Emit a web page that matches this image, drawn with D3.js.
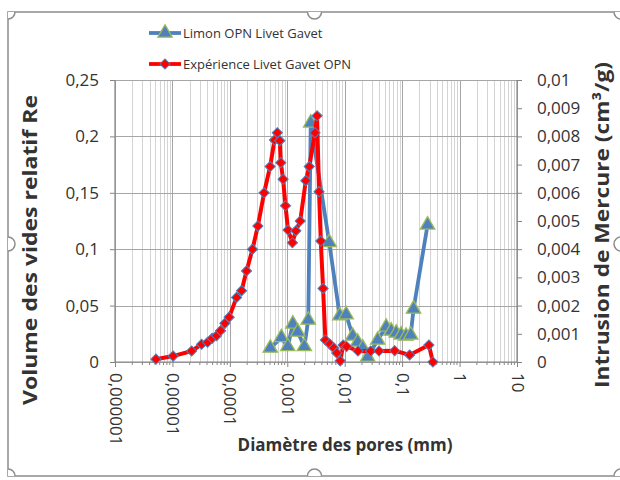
<!DOCTYPE html>
<html>
<head>
<meta charset="utf-8">
<script src="https://cdn.jsdelivr.net/npm/d3@7"></script>
<style>
  body { margin: 0; background: #fff; }
  text { font-family: "Open Sans", sans-serif; fill: #333; }
</style>
</head>
<body>
<script>
// pore diameters (mm) and values
var expDiam = [5.16e-6, 1.03e-5, 2.16e-5, 3.22e-5, 4.09e-5, 4.92e-5, 5.87e-5, 6.89e-5, 8.19e-5, 9.72e-5,
  1.31e-4, 1.60e-4, 1.95e-4, 2.48e-4, 3.07e-4, 3.95e-4, 5.02e-4, 5.99e-4, 6.70e-4, 7.41e-4,
  7.71e-4, 8.45e-4, 9.31e-4, 1.03e-3, 1.23e-3, 1.41e-3, 1.68e-3, 2.10e-3, 2.41e-3, 3.04e-3,
  3.30e-3, 3.57e-3, 3.83e-3, 4.20e-3, 4.61e-3, 5.48e-3, 6.44e-3, 7.26e-3, 8.35e-3, 9.42e-3,
  1.08e-2, 1.70e-2, 2.83e-2, 3.95e-2, 7.41e-2, 0.135, 0.292, 0.343];
var expIntrusion = [0.0001, 0.00021, 0.00039, 0.00063, 0.0007, 0.00084, 0.00093, 0.00111, 0.00137, 0.00159,
  0.00229, 0.00253, 0.00323, 0.0040, 0.00482, 0.0060, 0.00693, 0.00787, 0.00813, 0.00785,
  0.00707, 0.00648, 0.00554, 0.00468, 0.00423, 0.00465, 0.0050, 0.00643, 0.00693, 0.00813,
  0.00873, 0.00604, 0.00429, 0.00261, 0.00078, 0.00064, 0.0005, 0.00032, 0.00004, 0.0006,
  0.00055, 0.00039, 0.00039, 0.00039, 0.0004, 0.00025, 0.0006, 0];

var limonDiam = [5.06e-4, 7.87e-4, 1.02e-3, 1.25e-3, 1.52e-3, 1.98e-3, 2.32e-3, 2.56e-3, 5.37e-3, 8.18e-3,
  1.06e-2, 1.38e-2, 1.68e-2, 2.06e-2, 2.51e-2, 3.75e-2, 5.27e-2, 6.44e-2, 7.87e-2, 9.6e-2,
  0.117, 0.141, 0.158, 0.277];
var limonRe = [0.0124, 0.0217, 0.0137, 0.0337, 0.0266, 0.0137, 0.0372, 0.212, 0.106, 0.041,
  0.042, 0.023, 0.0177, 0.0124, 0.0044, 0.0195, 0.031, 0.0275, 0.0257, 0.024,
  0.023, 0.024, 0.047, 0.1215];

var seriesNames = ["Limon OPN Livet Gavet", "Expérience Livet Gavet OPN"];
var xTicks = [1e-6, 1e-5, 1e-4, 1e-3, 1e-2, 1e-1, 1, 10];
var xTickLabels = ["0,000001", "0,00001", "0,0001", "0,001", "0,01", "0,1", "1", "10"];
var leftTicks = [0, 0.05, 0.1, 0.15, 0.2, 0.25];
var leftTickLabels = ["0", "0,05", "0,1", "0,15", "0,2", "0,25"];
var rightTicks = [0, 0.001, 0.002, 0.003, 0.004, 0.005, 0.006, 0.007, 0.008, 0.009, 0.01];
var rightTickLabels = ["0", "0,001", "0,002", "0,003", "0,004", "0,005", "0,006", "0,007", "0,008", "0,009", "0,01"];

var W = 620, H = 480;
var plot = {left: 115, right: 517, top: 80, bottom: 362};

var svg = d3.select("body").append("svg")
  .attr("width", W)
  .attr("height", H);

// chart frame with the little selection handles
var fx0 = 8, fx1 = 621, fy0 = 12, fy1 = 476, r = 7;
svg.append("rect")
  .attr("x", fx0).attr("y", fy0)
  .attr("width", fx1 - fx0).attr("height", fy1 - fy0)
  .attr("fill", "#fff").attr("stroke", "#8c8c8c").attr("stroke-width", 1.5);
var handles = [
  [fx0, fy0], [fx1, fy0], [fx0, fy1], [fx1, fy1],
  [(fx0 + fx1) / 2, fy0], [(fx0 + fx1) / 2, fy1], [fx0, (fy0 + fy1) / 2], [fx1, (fy0 + fy1) / 2]
];
svg.append("clipPath").attr("id", "inside")
  .append("rect").attr("x", fx0).attr("y", fy0).attr("width", fx1 - fx0).attr("height", fy1 - fy0);
svg.append("g").attr("clip-path", "url(#inside)")
  .selectAll("circle").data(handles).enter().append("circle")
  .attr("cx", function (d) { return d[0]; })
  .attr("cy", function (d) { return d[1]; })
  .attr("r", r)
  .attr("fill", "#fff").attr("stroke", "#8c8c8c").attr("stroke-width", 1.5);

// scales
var x = d3.scaleLog().domain([1e-6, 10]).range([plot.left, plot.right]);
var yLeft = d3.scaleLinear().domain([0, 0.25]).range([plot.bottom, plot.top]);
var yRight = d3.scaleLinear().domain([0, 0.01]).range([plot.bottom, plot.top]);

// vertical grid (log minor + decades)
var minor = [];
for (var e = -6; e < 1; e++) {
  for (var k = 2; k <= 9; k++) minor.push(k * Math.pow(10, e));
}
var grid = svg.append("g");
grid.selectAll("line.minor").data(minor).enter().append("line")
  .attr("class", "minor")
  .attr("x1", function (d) { return Math.round(x(d)) + 0.5; })
  .attr("x2", function (d) { return Math.round(x(d)) + 0.5; })
  .attr("y1", plot.top).attr("y2", plot.bottom)
  .attr("stroke", "#d4d4d4").attr("stroke-width", 1);
grid.selectAll("line.major").data(xTicks).enter().append("line")
  .attr("class", "major")
  .attr("x1", function (d) { return Math.round(x(d)) + 0.5; })
  .attr("x2", function (d) { return Math.round(x(d)) + 0.5; })
  .attr("y1", plot.top).attr("y2", plot.bottom)
  .attr("stroke", "#a6a6a6").attr("stroke-width", 1);
grid.selectAll("line.h").data(leftTicks).enter().append("line")
  .attr("class", "h")
  .attr("x1", plot.left).attr("x2", plot.right)
  .attr("y1", function (d) { return Math.round(yLeft(d)) + 0.5; })
  .attr("y2", function (d) { return Math.round(yLeft(d)) + 0.5; })
  .attr("stroke", "#a6a6a6").attr("stroke-width", 1.2);

// axes
var axisColor = "#868686";
var gLeft = svg.append("g")
  .attr("transform", "translate(" + plot.left + ",0)")
  .call(d3.axisLeft(yLeft).tickValues(leftTicks).tickSize(5).tickPadding(11)
    .tickFormat(function (d, i) { return leftTickLabels[i]; }));
var gRight = svg.append("g")
  .attr("transform", "translate(" + plot.right + ",0)")
  .call(d3.axisRight(yRight).tickValues(rightTicks).tickSize(5).tickPadding(15)
    .tickFormat(function (d, i) { return rightTickLabels[i]; }));
var gBottom = svg.append("g")
  .attr("transform", "translate(0," + plot.bottom + ")")
  .call(d3.axisBottom(x).tickValues(xTicks).tickSize(5)
    .tickFormat(function (d, i) { return xTickLabels[i]; }));
gBottom.selectAll("text")
  .attr("transform", "rotate(90)")
  .attr("x", 11).attr("y", 0).attr("dy", "0.35em")
  .style("text-anchor", "start");
gBottom.selectAll("g.minor").data(minor).enter().append("line")
  .attr("x1", function (d) { return x(d); }).attr("x2", function (d) { return x(d); })
  .attr("y1", 0).attr("y2", 3).attr("stroke", axisColor);
[gLeft, gRight, gBottom].forEach(function (g) {
  g.selectAll("path.domain").attr("stroke", axisColor).attr("stroke-width", 1.2);
  g.selectAll("line").attr("stroke", axisColor);
  g.selectAll("text").style("font-family", "'Open Sans', sans-serif")
    .style("font-size", "17px").attr("fill", "#333");
});
gLeft.select("path.domain").attr("d", "M0," + plot.top + "V" + plot.bottom);
gRight.select("path.domain").attr("d", "M0," + plot.top + "V" + plot.bottom);
gBottom.select("path.domain").attr("d", "M" + plot.left + ",0H" + plot.right);

// series
var blue = "#4f81bd", green = "#9bbb59", red = "#ff0000";
var limon = limonDiam.map(function (d, i) { return {d: d, v: limonRe[i]}; });
var exp = expDiam.map(function (d, i) { return {d: d, v: expIntrusion[i]}; });

var limonLine = d3.line()
  .x(function (p) { return x(p.d); })
  .y(function (p) { return yLeft(p.v); });
var expLine = d3.line()
  .x(function (p) { return x(p.d); })
  .y(function (p) { return yRight(p.v); });

var tri = d3.symbol().type(d3.symbolTriangle).size(90);
var dia = d3.symbol().type(d3.symbolSquare).size(52);

svg.append("path").datum(limon)
  .attr("d", limonLine)
  .attr("fill", "none").attr("stroke", blue).attr("stroke-width", 3.8)
  .attr("stroke-linejoin", "round");
svg.append("g").selectAll("path").data(limon).enter().append("path")
  .attr("d", tri)
  .attr("transform", function (p) { return "translate(" + x(p.d) + "," + yLeft(p.v) + ")"; })
  .attr("fill", blue).attr("stroke", green).attr("stroke-width", 1.3);

svg.append("path").datum(exp)
  .attr("d", expLine)
  .attr("fill", "none").attr("stroke", red).attr("stroke-width", 4)
  .attr("stroke-linejoin", "round");
svg.append("g").selectAll("path").data(exp).enter().append("path")
  .attr("d", dia)
  .attr("transform", function (p) { return "translate(" + x(p.d) + "," + yRight(p.v) + ") rotate(45)"; })
  .attr("fill", red).attr("stroke", blue).attr("stroke-width", 1);

// legend
var legend = svg.append("g");
var legY = [33, 64];
legend.selectAll("line").data(legY).enter().append("line")
  .attr("x1", 149).attr("x2", 181)
  .attr("y1", function (d) { return d; }).attr("y2", function (d) { return d; })
  .attr("stroke", function (d, i) { return i === 0 ? blue : red; })
  .attr("stroke-width", 3.8);
legend.append("path").attr("d", tri)
  .attr("transform", "translate(165," + legY[0] + ")")
  .attr("fill", blue).attr("stroke", green).attr("stroke-width", 1.3);
legend.append("path").attr("d", dia)
  .attr("transform", "translate(165," + legY[1] + ") rotate(45)")
  .attr("fill", red).attr("stroke", blue).attr("stroke-width", 1);
legend.selectAll("text").data(seriesNames).enter().append("text")
  .attr("x", 183)
  .attr("y", function (d, i) { return legY[i]; })
  .attr("dy", "0.35em")
  .style("font-size", "13px")
  .text(function (d) { return d; });

// axis titles
svg.append("text")
  .attr("transform", "translate(30,250) rotate(-90)")
  .attr("text-anchor", "middle").attr("dy", "0.35em")
  .attr("textLength", 310).attr("lengthAdjust", "spacingAndGlyphs")
  .style("font-size", "20px").style("font-weight", "700").attr("fill", "#111")
  .text("Volume des vides relatif Re");
svg.append("text")
  .attr("transform", "translate(602,225) rotate(-90)")
  .attr("text-anchor", "middle").attr("dy", "0.35em")
  .attr("textLength", 326).attr("lengthAdjust", "spacingAndGlyphs")
  .style("font-size", "20px").style("font-weight", "700").attr("fill", "#111")
  .text("Intrusion de Mercure (cm³/g)");
svg.append("text")
  .attr("x", 345).attr("y", 445)
  .attr("text-anchor", "middle").attr("dy", "0.35em")
  .style("font-size", "17px").style("font-weight", "700").attr("fill", "#111")
  .text("Diamètre des pores (mm)");
</script>
</body>
</html>
